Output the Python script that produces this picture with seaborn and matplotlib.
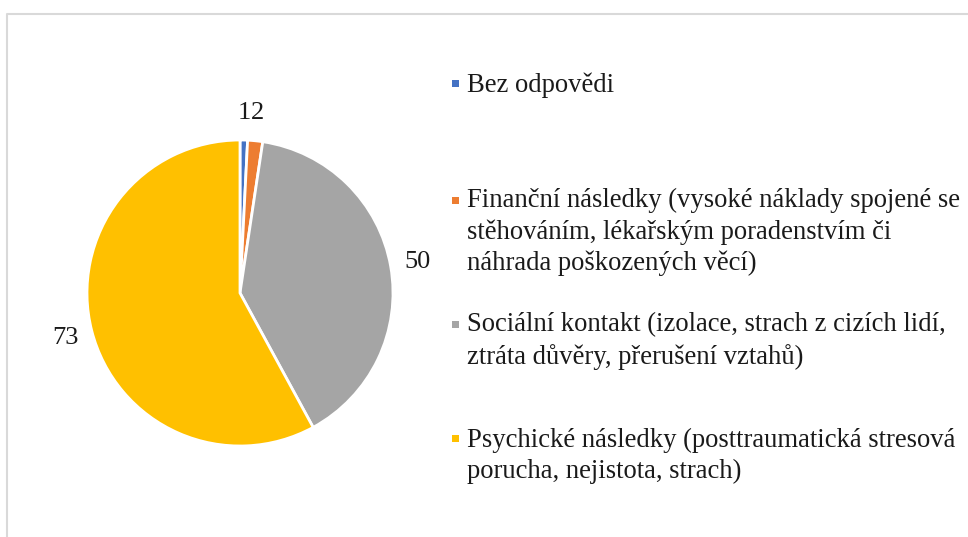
import matplotlib.pyplot as plt
import seaborn as sns
from matplotlib.lines import Line2D
from matplotlib.patches import Rectangle

# Data
categories = [
    "Bez odpovědi",
    "Finanční následky (vysoké náklady spojené se\nstěhováním, lékařským poradenstvím či\nnáhrada poškozených věcí)",
    "Sociální kontakt (izolace, strach z cizích lidí,\nztráta důvěry, přerušení vztahů)",
    "Psychické následky (posttraumatická stresová\nporucha, nejistota, strach)",
]
counts = [1, 2, 50, 73]
colors = ["#4472C4", "#ED7D31", "#A5A5A5", "#FFC000"]

sns.set_theme(style="white")
plt.rcParams["font.family"] = ["Liberation Serif", "DejaVu Serif"]

W, H = 968, 537
fig = plt.figure(figsize=(W / 100, H / 100), dpi=100)
fig.patch.set_facecolor("white")

# pie axes: centre (240, 293) px, radius 153 px
r = 153
cx, cy = 240, 293
side = 2.5 * r
ax = fig.add_axes([(cx - side / 2) / W, (H - cy - side / 2) / H, side / W, side / H])

total = sum(counts)
wedges, texts, autotexts = ax.pie(
    counts,
    colors=colors,
    startangle=90,
    counterclock=False,
    autopct=lambda p: f"{round(p * total / 100):.0f}",
    pctdistance=1.18,
    wedgeprops=dict(edgecolor="white", linewidth=2),
    textprops=dict(fontsize=19, color="#1a1a1a"),
)
ax.set_xlim(-1.25, 1.25)
ax.set_ylim(-1.25, 1.25)
ax.set_aspect("equal")
ax.axis("off")

# legend laid out like the Excel one (first-line baselines in px)
legend_baselines = [92, 209, 333, 447]
line_gap = 30.5
for cat, col, yb in zip(categories, colors, legend_baselines):
    n_lines = cat.count("\n") + 1
    y_last = yb + (n_lines - 1) * line_gap
    fig.text(467 / W, 1 - y_last / H, cat, fontsize=19.2, color="#1a1a1a",
             ha="left", va="baseline", linespacing=1.30)
    fig.add_artist(Rectangle((452 / W, 1 - (yb - 5) / H), 7 / W, 7 / H,
                             transform=fig.transFigure, facecolor=col,
                             edgecolor="none"))

# chart frame (only top and left edges visible)
fig.add_artist(Line2D([7 / W, 7 / W, 1], [0, 1 - 14 / H, 1 - 14 / H],
                      transform=fig.transFigure, color="#D9D9D9", linewidth=1.5))

fig.savefig("out.png", dpi=100)
